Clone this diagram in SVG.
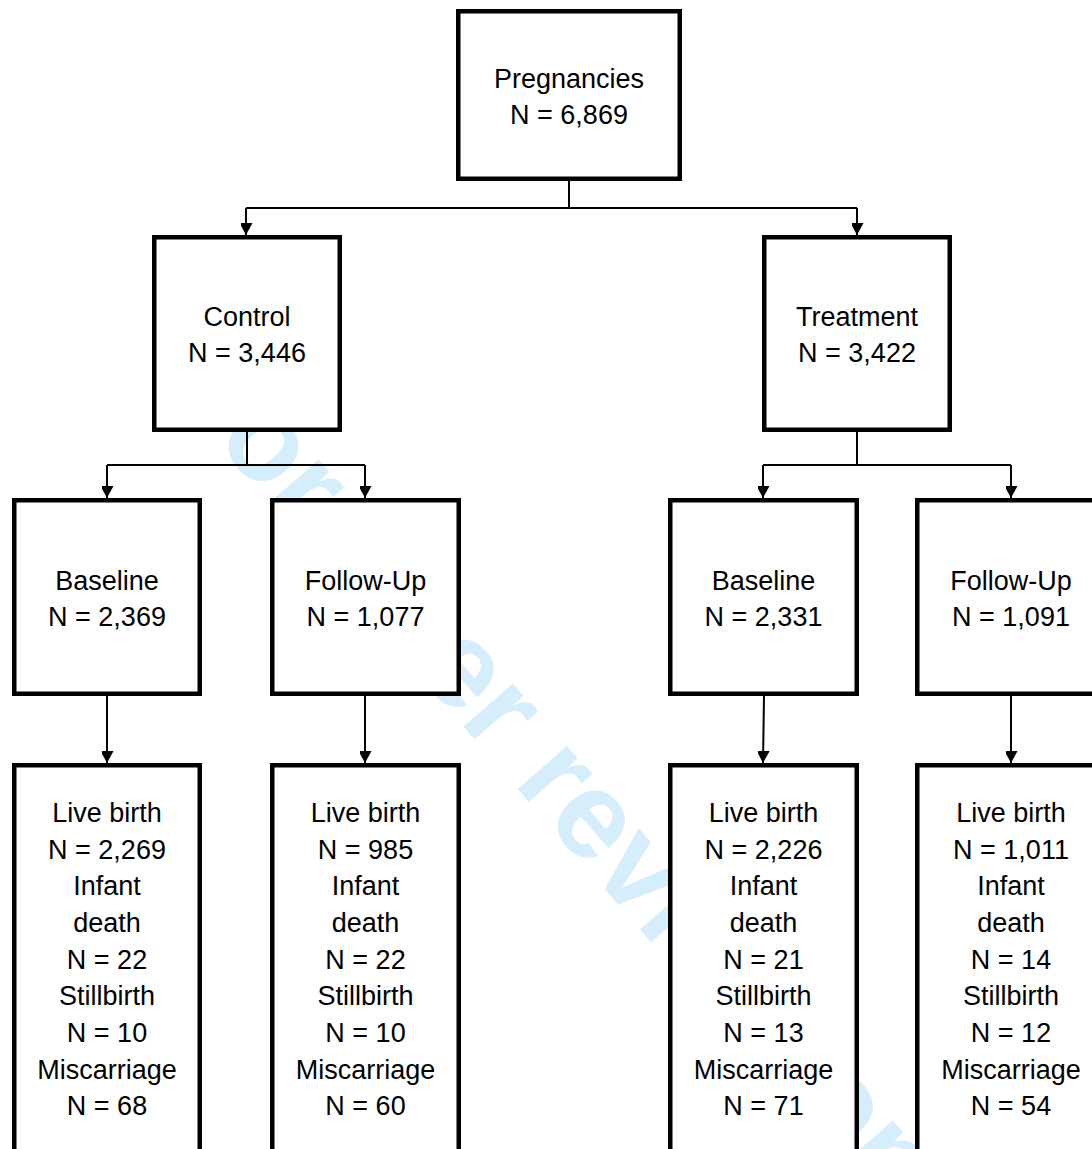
<svg xmlns="http://www.w3.org/2000/svg" width="1092" height="1149" viewBox="0 0 1092 1149">
<style>
.box{fill:#fff;stroke:#000;stroke-width:4.5}
.lbl{font-family:"Liberation Sans",Arial,sans-serif;font-size:27px;fill:#000;text-anchor:middle}
.con{fill:none;stroke:#000;stroke-width:2}
.wm{font-family:"Liberation Sans",Arial,sans-serif;font-size:124px;font-weight:bold;fill:#d6eefb}
</style>
<defs>
<marker id="arr" viewBox="0 0 13 12" refX="12" refY="6.5" markerWidth="13" markerHeight="12" markerUnits="userSpaceOnUse" orient="auto">
<path d="M0,0 L12,6.5 L0,13 Z" fill="#000"/>
</marker>
</defs>
<rect width="1092" height="1149" fill="#fff"/>
<text class="wm" transform="translate(164,382) rotate(49)">For peer review only</text>
<g id="connectors">
<path class="con" d="M569,181 V208 M246,208 H857"/>
<path class="con" d="M246,208 V235" marker-end="url(#arr)"/>
<path class="con" d="M857,208 V235" marker-end="url(#arr)"/>
<path class="con" d="M247,432 V465 M107,465 H365"/>
<path class="con" d="M107,465 V498" marker-end="url(#arr)"/>
<path class="con" d="M365,465 V498" marker-end="url(#arr)"/>
<path class="con" d="M857,432 V465 M763,465 H1011"/>
<path class="con" d="M763,465 V498" marker-end="url(#arr)"/>
<path class="con" d="M1011,465 V498" marker-end="url(#arr)"/>
<path class="con" d="M107,696 V763" marker-end="url(#arr)"/>
<path class="con" d="M365,696 V763" marker-end="url(#arr)"/>
<path class="con" d="M764,696 L763,763" marker-end="url(#arr)"/>
<path class="con" d="M1011,696 V763" marker-end="url(#arr)"/>
</g>
<g id="pregnancies">
<rect class="box" x="458.25" y="11.25" width="221.5" height="167.5"/>
<text class="lbl" x="569" y="88">Pregnancies</text>
<text class="lbl" x="569" y="124">N = 6,869</text>
</g>
<g id="control">
<rect class="box" x="154.25" y="237.25" width="185.5" height="192.5"/>
<text class="lbl" x="247" y="326">Control</text>
<text class="lbl" x="247" y="362">N = 3,446</text>
</g>
<g id="treatment">
<rect class="box" x="764.25" y="237.25" width="185.5" height="192.5"/>
<text class="lbl" x="857" y="326">Treatment</text>
<text class="lbl" x="857" y="362">N = 3,422</text>
</g>
<g id="control-baseline">
<rect class="box" x="14.25" y="500.25" width="185.5" height="193.5"/>
<text class="lbl" x="107" y="590">Baseline</text>
<text class="lbl" x="107" y="626">N = 2,369</text>
</g>
<g id="control-followup">
<rect class="box" x="272.25" y="500.25" width="186.5" height="193.5"/>
<text class="lbl" x="365.5" y="590">Follow-Up</text>
<text class="lbl" x="365.5" y="626">N = 1,077</text>
</g>
<g id="treatment-baseline">
<rect class="box" x="670.25" y="500.25" width="186.5" height="193.5"/>
<text class="lbl" x="763.5" y="590">Baseline</text>
<text class="lbl" x="763.5" y="626">N = 2,331</text>
</g>
<g id="treatment-followup">
<rect class="box" x="917.25" y="500.25" width="186.5" height="193.5"/>
<text class="lbl" x="1011" y="590">Follow-Up</text>
<text class="lbl" x="1011" y="626">N = 1,091</text>
</g>
<g id="control-baseline-outcomes">
<rect class="box" x="14.25" y="765.25" width="185.5" height="420"/>
<text class="lbl" x="107" y="822">Live birth</text>
<text class="lbl" x="107" y="858.7">N = 2,269</text>
<text class="lbl" x="107" y="895.3">Infant</text>
<text class="lbl" x="107" y="932">death</text>
<text class="lbl" x="107" y="968.7">N = 22</text>
<text class="lbl" x="107" y="1005.3">Stillbirth</text>
<text class="lbl" x="107" y="1042">N = 10</text>
<text class="lbl" x="107" y="1078.7">Miscarriage</text>
<text class="lbl" x="107" y="1115.4">N = 68</text>
</g>
<g id="control-followup-outcomes">
<rect class="box" x="272.25" y="765.25" width="186.5" height="420"/>
<text class="lbl" x="365.5" y="822">Live birth</text>
<text class="lbl" x="365.5" y="858.7">N = 985</text>
<text class="lbl" x="365.5" y="895.3">Infant</text>
<text class="lbl" x="365.5" y="932">death</text>
<text class="lbl" x="365.5" y="968.7">N = 22</text>
<text class="lbl" x="365.5" y="1005.3">Stillbirth</text>
<text class="lbl" x="365.5" y="1042">N = 10</text>
<text class="lbl" x="365.5" y="1078.7">Miscarriage</text>
<text class="lbl" x="365.5" y="1115.4">N = 60</text>
</g>
<g id="treatment-baseline-outcomes">
<rect class="box" x="670.25" y="765.25" width="186.5" height="420"/>
<text class="lbl" x="763.5" y="822">Live birth</text>
<text class="lbl" x="763.5" y="858.7">N = 2,226</text>
<text class="lbl" x="763.5" y="895.3">Infant</text>
<text class="lbl" x="763.5" y="932">death</text>
<text class="lbl" x="763.5" y="968.7">N = 21</text>
<text class="lbl" x="763.5" y="1005.3">Stillbirth</text>
<text class="lbl" x="763.5" y="1042">N = 13</text>
<text class="lbl" x="763.5" y="1078.7">Miscarriage</text>
<text class="lbl" x="763.5" y="1115.4">N = 71</text>
</g>
<g id="treatment-followup-outcomes">
<rect class="box" x="917.25" y="765.25" width="186.5" height="420"/>
<text class="lbl" x="1011" y="822">Live birth</text>
<text class="lbl" x="1011" y="858.7">N = 1,011</text>
<text class="lbl" x="1011" y="895.3">Infant</text>
<text class="lbl" x="1011" y="932">death</text>
<text class="lbl" x="1011" y="968.7">N = 14</text>
<text class="lbl" x="1011" y="1005.3">Stillbirth</text>
<text class="lbl" x="1011" y="1042">N = 12</text>
<text class="lbl" x="1011" y="1078.7">Miscarriage</text>
<text class="lbl" x="1011" y="1115.4">N = 54</text>
</g>
</svg>
